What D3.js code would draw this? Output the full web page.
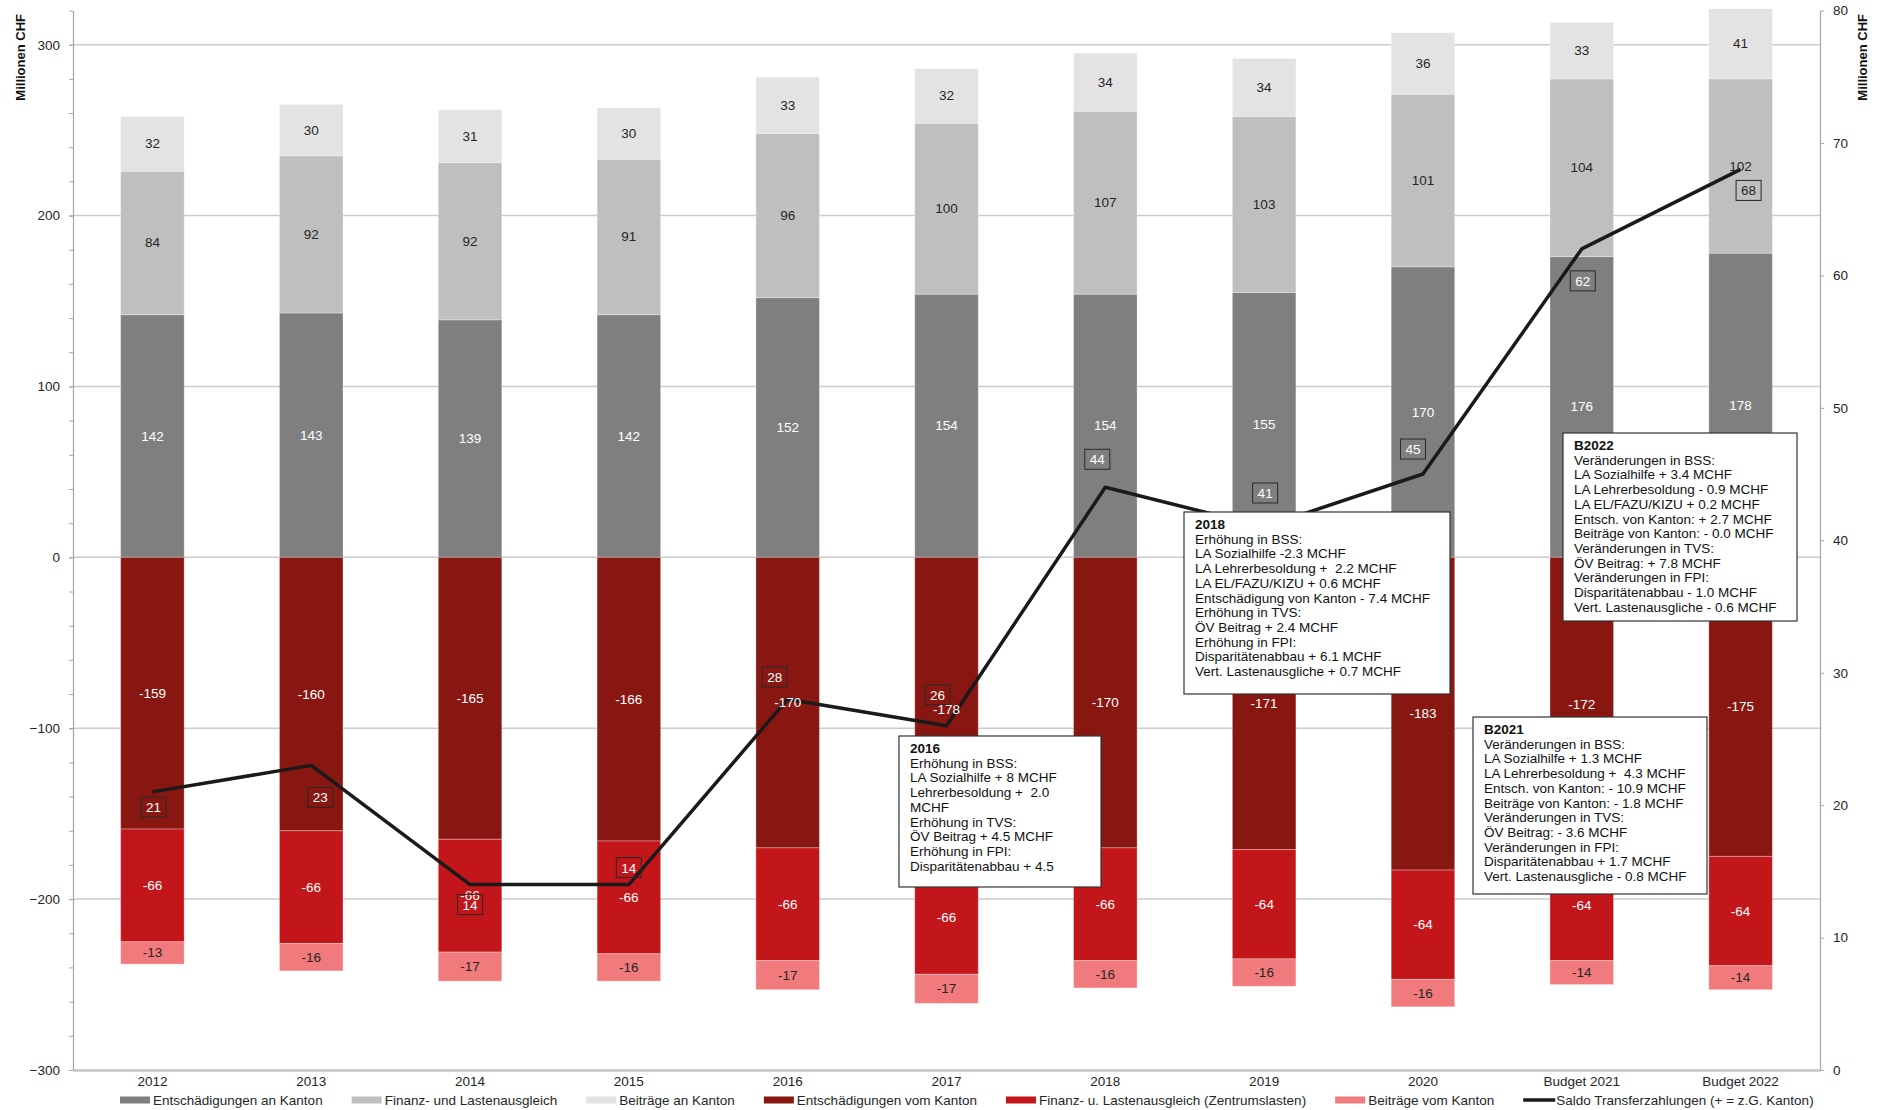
<!DOCTYPE html>
<html>
<head>
<meta charset="utf-8">
<title>Transferzahlungen</title>
<script src="https://cdnjs.cloudflare.com/ajax/libs/d3/7.8.5/d3.min.js"></script>
<style>
  body { margin: 0; background: #fff; }
  svg { font-family: "Liberation Sans", Arial, sans-serif; display: block; }
  .axis text { font-size: 13.5px; fill: #262626; }
  .axis .domain { stroke: #a6a6a6; stroke-width: 1.2; }
  .axis .tick line { stroke: #a6a6a6; }
  .x-axis .domain { stroke: #c4c4c4; stroke-width: 2.5; }
  .grid line { stroke: #cbcbcb; stroke-width: 1.5; }
  .bar-label { font-size: 13.5px; text-anchor: middle; dominant-baseline: central; }
  .saldo-label { font-size: 13.5px; text-anchor: middle; dominant-baseline: central; }
  .axis-title { font-size: 13px; font-weight: bold; fill: #111; }
  .legend text { font-size: 13.5px; fill: #262626; dominant-baseline: central; }
  .note text { font-size: 13.5px; fill: #111; white-space: pre; }
</style>
</head>
<body>
<svg id="chart"></svg>
<script>
// Categories
const years = ['2012', '2013', '2014', '2015', '2016', '2017', '2018', '2019', '2020', 'Budget 2021', 'Budget 2022'];

// Zahlungen an den Kanton (positiv)
const entschAnKanton = [142, 143, 139, 142, 152, 154, 154, 155, 170, 176, 178];
const finanzLastenausgleich = [84, 92, 92, 91, 96, 100, 107, 103, 101, 104, 102];
const beitraegeAnKanton = [32, 30, 31, 30, 33, 32, 34, 34, 36, 33, 41];

// Zahlungen vom Kanton (negativ)
const entschVomKanton = [-159, -160, -165, -166, -170, -178, -170, -171, -183, -172, -175];
const zentrumslasten = [-66, -66, -66, -66, -66, -66, -66, -64, -64, -64, -64];
const beitraegeVomKanton = [-13, -16, -17, -16, -17, -17, -16, -16, -16, -14, -14];

// Saldo Transferzahlungen (rechte Achse)
const saldo = [21, 23, 14, 14, 28, 26, 44, 41, 45, 62, 68];

// Tick values
const leftTicks = [-300, -200, -100, 0, 100, 200, 300];
const rightTicks = [0, 10, 20, 30, 40, 50, 60, 70, 80];

// Annotation texts
const note2016 = ['2016', 'Erhöhung in BSS:', 'LA Sozialhilfe + 8 MCHF', 'Lehrerbesoldung +  2.0', 'MCHF',
  'Erhöhung in TVS:', 'ÖV Beitrag + 4.5 MCHF', 'Erhöhung in FPI:', 'Disparitätenabbau + 4.5'];
const note2018 = ['2018', 'Erhöhung in BSS:', 'LA Sozialhilfe -2.3 MCHF', 'LA Lehrerbesoldung +  2.2 MCHF',
  'LA EL/FAZU/KIZU + 0.6 MCHF', 'Entschädigung von Kanton - 7.4 MCHF', 'Erhöhung in TVS:', 'ÖV Beitrag + 2.4 MCHF',
  'Erhöhung in FPI:', 'Disparitätenabbau + 6.1 MCHF', 'Vert. Lastenausgliche + 0.7 MCHF'];
const noteB2021 = ['B2021', 'Veränderungen in BSS:', 'LA Sozialhilfe + 1.3 MCHF', 'LA Lehrerbesoldung +  4.3 MCHF',
  'Entsch. von Kanton: - 10.9 MCHF', 'Beiträge von Kanton: - 1.8 MCHF', 'Veränderungen in TVS:', 'ÖV Beitrag: - 3.6 MCHF',
  'Veränderungen in FPI:', 'Disparitätenabbau + 1.7 MCHF', 'Vert. Lastenausgliche - 0.8 MCHF'];
const noteB2022 = ['B2022', 'Veränderungen in BSS:', 'LA Sozialhilfe + 3.4 MCHF', 'LA Lehrerbesoldung - 0.9 MCHF',
  'LA EL/FAZU/KIZU + 0.2 MCHF', 'Entsch. von Kanton: + 2.7 MCHF', 'Beiträge von Kanton: - 0.0 MCHF',
  'Veränderungen in TVS:', 'ÖV Beitrag: + 7.8 MCHF', 'Veränderungen in FPI:', 'Disparitätenabbau - 1.0 MCHF',
  'Vert. Lastenausgliche - 0.6 MCHF'];

const saldoLabel = 'Saldo Transferzahlungen (+ = z.G. Kanton)';

class TransferChart {

  constructor(_config) {
    this.config = {
      parentElement: _config.parentElement,
      containerWidth: _config.containerWidth || 1883,
      containerHeight: _config.containerHeight || 1110,
      margin: _config.margin || { top: 10.5, right: 63, bottom: 40, left: 73 }
    };
    // series with their look
    this.series = [
      { key: 'entschAn', name: 'Entschädigungen an Kanton', values: entschAnKanton, color: '#7f7f7f', text: '#ffffff' },
      { key: 'finanz', name: 'Finanz- und Lastenausgleich', values: finanzLastenausgleich, color: '#bfbfbf', text: '#262626' },
      { key: 'beitrAn', name: 'Beiträge an Kanton', values: beitraegeAnKanton, color: '#e3e3e3', text: '#262626' },
      { key: 'entschVom', name: 'Entschädigungen vom Kanton', values: entschVomKanton, color: '#881711', text: '#ffffff' },
      { key: 'zentrum', name: 'Finanz- u. Lastenausgleich (Zentrumslasten)', values: zentrumslasten, color: '#c2161a', text: '#ffffff' },
      { key: 'beitrVom', name: 'Beiträge vom Kanton', values: beitraegeVomKanton, color: '#f07a7c', text: '#262626' }
    ];
    // where the boxed saldo labels sit relative to the line point
    this.saldoOffsets = [[1, 15], [9, 32], [0, 20], [0, -17], [-13, -22], [-9, -31], [-8, -28], [1, -34], [-10, -25], [1, 32], [8, 21]];
    // annotation boxes: left, top, width, height (px)
    this.notes = [
      { lines: note2016, box: [899, 736, 202, 151] },
      { lines: note2018, box: [1184, 512, 266, 182] },
      { lines: noteB2021, box: [1473, 717, 234, 177] },
      { lines: noteB2022, box: [1563, 433, 234, 188] }
    ];
    this.initVis();
  }

  initVis() {
    let vis = this;

    vis.width = vis.config.containerWidth - vis.config.margin.left - vis.config.margin.right;
    vis.height = vis.config.containerHeight - vis.config.margin.top - vis.config.margin.bottom;

    vis.xScale = d3.scaleBand()
        .domain(years)
        .range([0, vis.width])
        .paddingInner(0.6)
        .paddingOuter(0.3);

    vis.yScale = d3.scaleLinear()
        .domain([-300, 320])
        .range([vis.height, 0]);

    vis.y2Scale = d3.scaleLinear()
        .domain([0, 80])
        .range([vis.height, 0]);

    vis.svg = d3.select(vis.config.parentElement)
        .attr('width', vis.config.containerWidth)
        .attr('height', vis.config.containerHeight);

    vis.chart = vis.svg.append('g')
        .attr('transform', `translate(${vis.config.margin.left},${vis.config.margin.top})`);

    vis.gridG = vis.chart.append('g').attr('class', 'grid');
    vis.barsG = vis.chart.append('g').attr('class', 'bars');
    vis.xAxisG = vis.chart.append('g')
        .attr('class', 'axis x-axis')
        .attr('transform', `translate(0,${vis.height})`);
    vis.yMinorG = vis.chart.append('g').attr('class', 'axis y-minor');
    vis.yAxisG = vis.chart.append('g').attr('class', 'axis y-axis');
    vis.y2AxisG = vis.chart.append('g')
        .attr('class', 'axis y2-axis')
        .attr('transform', `translate(${vis.width},0)`);
    vis.lineG = vis.chart.append('g').attr('class', 'saldo');
    vis.labelG = vis.chart.append('g').attr('class', 'labels');
    vis.notesG = vis.svg.append('g').attr('class', 'notes');
    vis.legendG = vis.svg.append('g').attr('class', 'legend');

    // axis titles
    vis.svg.append('text')
        .attr('class', 'axis-title')
        .attr('transform', 'translate(25,14) rotate(-90)')
        .attr('text-anchor', 'end')
        .text('Millionen CHF');

    vis.svg.append('text')
        .attr('class', 'axis-title')
        .attr('transform', 'translate(1867,14) rotate(-90)')
        .attr('text-anchor', 'end')
        .text('Millionen CHF');

    vis.updateVis();
  }

  updateVis() {
    let vis = this;

    vis.rows = years.map((year, i) => {
      let row = { year: year };
      vis.series.forEach(s => { row[s.key] = s.values[i]; });
      return row;
    });

    vis.stacked = d3.stack()
        .keys(vis.series.map(s => s.key))
        .offset(d3.stackOffsetDiverging)(vis.rows);

    vis.renderVis();
  }

  renderVis() {
    let vis = this;
    const bw = vis.xScale.bandwidth();

    // gridlines
    vis.gridG.selectAll('line')
        .data(leftTicks.filter(t => t > -300))
      .join('line')
        .attr('x1', 0)
        .attr('x2', vis.width)
        .attr('y1', d => vis.yScale(d))
        .attr('y2', d => vis.yScale(d));

    // stacked bars
    const layers = vis.barsG.selectAll('.layer')
        .data(vis.stacked)
      .join('g')
        .attr('class', 'layer')
        .attr('fill', (d, i) => vis.series[i].color);

    layers.selectAll('rect')
        .data(d => d)
      .join('rect')
        .attr('x', d => vis.xScale(d.data.year))
        .attr('width', bw)
        .attr('y', d => vis.yScale(Math.max(d[0], d[1])))
        .attr('height', d => Math.abs(vis.yScale(d[0]) - vis.yScale(d[1])))
        .attr('stroke', 'rgba(255,255,255,0.3)')
        .attr('stroke-width', 1);

    // axes
    vis.xAxisG.call(d3.axisBottom(vis.xScale).tickSize(0).tickPadding(6));

    vis.yMinorG.call(d3.axisLeft(vis.yScale)
        .tickValues(d3.range(-300, 321, 20))
        .tickFormat('')
        .tickSize(4)
        .tickSizeOuter(0));
    vis.yMinorG.select('.domain').remove();

    vis.yAxisG.call(d3.axisLeft(vis.yScale)
        .tickValues(leftTicks)
        .tickSize(4)
        .tickPadding(9)
        .tickSizeOuter(0));

    vis.y2AxisG.call(d3.axisRight(vis.y2Scale)
        .tickValues(rightTicks)
        .tickSize(4)
        .tickPadding(9)
        .tickSizeOuter(0));

    // saldo line
    const line = d3.line()
        .x((d, i) => vis.xScale(years[i]) + bw / 2)
        .y(d => vis.y2Scale(d));

    vis.lineG.append('path')
        .datum(saldo)
        .attr('d', line)
        .attr('fill', 'none')
        .attr('stroke', '#1a1a1a')
        .attr('stroke-width', 3.5)
        .attr('stroke-linejoin', 'round');

    // bar value labels
    vis.stacked.forEach((layer, li) => {
      vis.labelG.selectAll(`.bl-${li}`)
          .data(layer)
        .join('text')
          .attr('class', `bar-label bl-${li}`)
          .attr('x', d => vis.xScale(d.data.year) + bw / 2)
          .attr('y', d => vis.yScale((d[0] + d[1]) / 2))
          .attr('fill', vis.series[li].text)
          .text(d => d.data[vis.series[li].key]);
    });

    // boxed saldo labels; text colour follows the segment below the box
    const segmentText = (i, yPx) => {
      const v = vis.yScale.invert(yPx);
      for (let li = 0; li < vis.stacked.length; li++) {
        const d = vis.stacked[li][i];
        if (v >= Math.min(d[0], d[1]) && v <= Math.max(d[0], d[1])) return vis.series[li].text;
      }
      return '#262626';
    };

    const sl = vis.labelG.selectAll('.saldo-box')
        .data(saldo)
      .join('g')
        .attr('class', 'saldo-box')
        .attr('transform', (d, i) => {
          const cx = vis.xScale(years[i]) + bw / 2 + vis.saldoOffsets[i][0];
          const cy = vis.y2Scale(d) + vis.saldoOffsets[i][1];
          return `translate(${cx},${cy})`;
        });

    sl.append('rect')
        .attr('x', -12.5)
        .attr('y', -10)
        .attr('width', 25)
        .attr('height', 20)
        .attr('fill', 'none')
        .attr('stroke', '#2a2a2a')
        .attr('stroke-width', 1);

    sl.append('text')
        .attr('class', 'saldo-label')
        .attr('y', 0.5)
        .attr('fill', (d, i) => segmentText(i, vis.y2Scale(d) + vis.saldoOffsets[i][1]))
        .text(d => d);

    // annotation boxes
    const notes = vis.notesG.selectAll('.note')
        .data(vis.notes)
      .join('g')
        .attr('class', 'note')
        .attr('transform', d => `translate(${d.box[0]},${d.box[1]})`);

    notes.append('rect')
        .attr('width', d => d.box[2])
        .attr('height', d => d.box[3])
        .attr('fill', '#fff')
        .attr('stroke', '#333')
        .attr('stroke-width', 1.2);

    notes.each(function(d) {
      d3.select(this).selectAll('text')
          .data(d.lines)
        .join('text')
          .attr('x', 11)
          .attr('y', (t, i) => 17 + i * 14.7)
          .attr('font-weight', (t, i) => i === 0 ? 'bold' : null)
          .text(t => t);
    });

    // legend, one row
    const items = vis.series.map(s => ({ name: s.name, color: s.color, type: 'rect' }))
        .concat([{ name: saldoLabel, color: '#1a1a1a', type: 'line' }]);
    let lx = 120;
    const ly = 1100;
    items.forEach(it => {
      const g = vis.legendG.append('g').attr('transform', `translate(${lx},${ly})`);
      if (it.type === 'rect') {
        g.append('rect').attr('x', 0).attr('y', -3.5).attr('width', 30).attr('height', 7).attr('fill', it.color);
      } else {
        g.append('line').attr('x1', 0).attr('x2', 32).attr('y1', 0).attr('y2', 0)
            .attr('stroke', it.color).attr('stroke-width', 3.5);
      }
      const t = g.append('text').attr('x', 33).attr('y', 0).text(it.name);
      lx += 33 + t.node().getComputedTextLength() + 29;
    });
  }
}

new TransferChart({ parentElement: '#chart' });
</script>
</body>
</html>
